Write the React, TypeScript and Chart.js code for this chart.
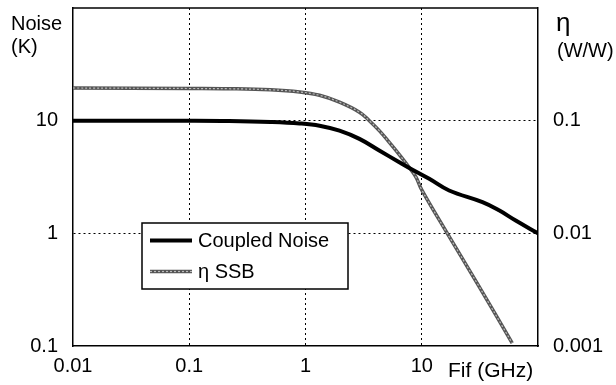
import React, { useEffect, useRef } from "react";
import { Chart, registerables } from "chart.js";

Chart.register(...registerables);

// Coupled noise (K) vs IF frequency (GHz)
const noiseFreq = [0.01, 0.1, 0.22, 0.5, 0.89, 1.32, 1.96, 2.91, 4.31, 6.41, 7.81, 11.6, 17.2, 33.3, 46.2, 64.3, 100];
const noiseK = [10, 10, 9.95, 9.75, 9.46, 9.03, 8.15, 6.89, 5.43, 4.28, 3.81, 3.05, 2.4, 1.89, 1.6, 1.3, 1.0];

// eta SSB (W/W) vs IF frequency (GHz)
const etaFreq = [0.01, 0.1, 0.22, 0.5, 0.89, 1.32, 1.96, 2.91, 3.54, 4.31, 5.26, 6.41, 7.81, 8.92, 10, 16.2, 30, 60];
const etaSSB = [0.195, 0.193, 0.192, 0.188, 0.18, 0.168, 0.146, 0.119, 0.1, 0.0816, 0.0642, 0.05, 0.0384, 0.0315, 0.0243, 0.0104, 0.0036, 0.00106];

const xTickValues = [0.01, 0.1, 1, 10];
const xTickLabels = ["0.01", "0.1", "1", "10"];
const yTickValues = [0.1, 1, 10];
const yTickLabels = ["0.1", "1", "10"];
const y2TickValues = [0.001, 0.01, 0.1];
const y2TickLabels = ["0.001", "0.01", "0.1"];

const seriesLabels = ["Coupled Noise", "\u03b7 SSB"];

const FONT = "'Liberation Sans', Arial, Helvetica, sans-serif";

function labelFor(values: number[], labels: string[], v: number) {
  for (let i = 0; i < values.length; i++) {
    if (Math.abs(Math.log10(values[i]) - Math.log10(v)) < 1e-6) return labels[i];
  }
  return "";
}

const overlay = {
  id: "overlay",
  afterDraw(chart: any) {
    const { ctx, chartArea } = chart;
    const { left, right, top } = chartArea;
    ctx.save();
    // top border
    ctx.strokeStyle = "#000";
    ctx.lineWidth = 1.5;
    ctx.beginPath();
    ctx.moveTo(left, top);
    ctx.lineTo(right, top);
    ctx.stroke();

    ctx.fillStyle = "#000";
    ctx.textBaseline = "alphabetic";
    ctx.textAlign = "left";
    ctx.font = `20px ${FONT}`;
    // left axis title
    ctx.fillText("Noise", 11, 30);
    ctx.fillText("(K)", 11, 53);
    // right axis title
    ctx.font = `26px ${FONT}`;
    ctx.fillText("\u03b7", right + 18, 31);
    ctx.font = `20px ${FONT}`;
    ctx.fillText("(W/W)", right + 19, 57);
    // x axis title
    ctx.font = `21px ${FONT}`;
    ctx.fillText("Fif (GHz)", right - 90, 377);

    // legend
    const lx = left + 69;
    const ly = top + 215;
    const lw = 206;
    const lh = 66;
    ctx.fillStyle = "#fff";
    ctx.fillRect(lx, ly, lw, lh);
    ctx.strokeStyle = "#000";
    ctx.lineWidth = 1.5;
    ctx.strokeRect(lx, ly, lw, lh);

    const sx1 = lx + 8;
    const sx2 = lx + 50;
    const r1 = ly + 17.5;
    const r2 = ly + 48.5;
    ctx.beginPath();
    ctx.strokeStyle = "#000";
    ctx.lineWidth = 4;
    ctx.moveTo(sx1, r1);
    ctx.lineTo(sx2, r1);
    ctx.stroke();

    ctx.beginPath();
    ctx.strokeStyle = "#555";
    ctx.lineWidth = 3.5;
    ctx.moveTo(sx1, r2);
    ctx.lineTo(sx2, r2);
    ctx.stroke();
    ctx.beginPath();
    ctx.strokeStyle = "#bbb";
    ctx.lineWidth = 1.2;
    ctx.setLineDash([2, 2]);
    ctx.moveTo(sx1, r2);
    ctx.lineTo(sx2, r2);
    ctx.stroke();
    ctx.setLineDash([]);

    ctx.fillStyle = "#000";
    ctx.textBaseline = "middle";
    ctx.font = `20px ${FONT}`;
    ctx.fillText(seriesLabels[0], lx + 56, r1 + 1);
    ctx.fillText(seriesLabels[1], lx + 56, r2 + 1);
    ctx.restore();
  },
};

export default function App() {
  const ref = useRef<HTMLCanvasElement>(null);

  useEffect(() => {
    if (!ref.current) return;
    const noiseData = noiseFreq.map((f, i) => ({ x: f, y: noiseK[i] }));
    const etaData = etaFreq.map((f, i) => ({ x: f, y: etaSSB[i] }));

    const gridColor = (vals: number[]) => (c: any) => {
      const v = c.tick ? c.tick.value : NaN;
      const i = vals.findIndex((t) => Math.abs(Math.log10(t) - Math.log10(v)) < 1e-6);
      return i > 0 ? "#000" : "rgba(0,0,0,0)";
    };

    const chart = new Chart(ref.current, {
      type: "line",
      data: {
        datasets: [
          {
            label: seriesLabels[0],
            data: noiseData,
            borderColor: "#000",
            borderWidth: 4,
            pointRadius: 0,
            tension: 0.4,
            yAxisID: "y",
            fill: false,
          },
          {
            label: seriesLabels[1] + " core",
            data: etaData,
            borderColor: "#bbb",
            borderWidth: 1.2,
            borderDash: [2, 2],
            pointRadius: 0,
            tension: 0.4,
            yAxisID: "y2",
            fill: false,
          },
          {
            label: seriesLabels[1],
            data: etaData,
            borderColor: "#555",
            borderWidth: 3.5,
            pointRadius: 0,
            tension: 0.4,
            yAxisID: "y2",
            fill: false,
          },
        ],
      },
      options: {
        animation: false,
        responsive: true,
        maintainAspectRatio: false,
        layout: { padding: { top: 8, left: 0, right: 0, bottom: 0 } },
        plugins: { legend: { display: false }, tooltip: { enabled: false } },
        scales: {
          x: {
            type: "logarithmic",
            min: 0.01,
            max: 100,
            afterBuildTicks: (s: any) => {
              s.ticks = xTickValues.map((v) => ({ value: v }));
            },
            afterFit: (s: any) => {
              s.height = 39;
              s.paddingLeft = 0;
              s.paddingRight = 0;
            },
            ticks: {
              autoSkip: false,
              maxRotation: 0,
              padding: 8,
              color: "#000",
              font: { family: FONT, size: 20 },
              callback: (v: any) => labelFor(xTickValues, xTickLabels, Number(v)),
            },
            grid: { color: gridColor(xTickValues), lineWidth: 1, drawTicks: false },
            border: { display: true, color: "#000", width: 1.5, dash: [2, 3] },
          },
          y: {
            type: "logarithmic",
            position: "left",
            min: 0.1,
            max: 100,
            afterBuildTicks: (s: any) => {
              s.ticks = yTickValues.map((v) => ({ value: v }));
            },
            afterFit: (s: any) => {
              s.width = 73;
              s.paddingTop = 0;
              s.paddingBottom = 0;
            },
            ticks: {
              autoSkip: false,
              padding: 15,
              color: "#000",
              font: { family: FONT, size: 20 },
              callback: (v: any) => labelFor(yTickValues, yTickLabels, Number(v)),
            },
            grid: { color: gridColor(yTickValues), lineWidth: 1, drawTicks: false },
            border: { display: true, color: "#000", width: 1.5, dash: [2, 3] },
          },
          y2: {
            type: "logarithmic",
            position: "right",
            min: 0.001,
            max: 1,
            afterBuildTicks: (s: any) => {
              s.ticks = y2TickValues.map((v) => ({ value: v }));
            },
            afterFit: (s: any) => {
              s.width = 78;
              s.paddingTop = 0;
              s.paddingBottom = 0;
            },
            ticks: {
              autoSkip: false,
              padding: 15,
              color: "#000",
              font: { family: FONT, size: 20 },
              callback: (v: any) => labelFor(y2TickValues, y2TickLabels, Number(v)),
            },
            grid: { display: false, drawTicks: false },
            border: { display: true, color: "#000", width: 1.5 },
          },
        },
      },
      plugins: [overlay],
    } as any);
    return () => chart.destroy();
  }, []);

  return (
    <div style={{ position: "absolute", left: 0, top: 0, width: 616, height: 385, background: "#fff" }}>
      <canvas ref={ref} />
    </div>
  );
}
